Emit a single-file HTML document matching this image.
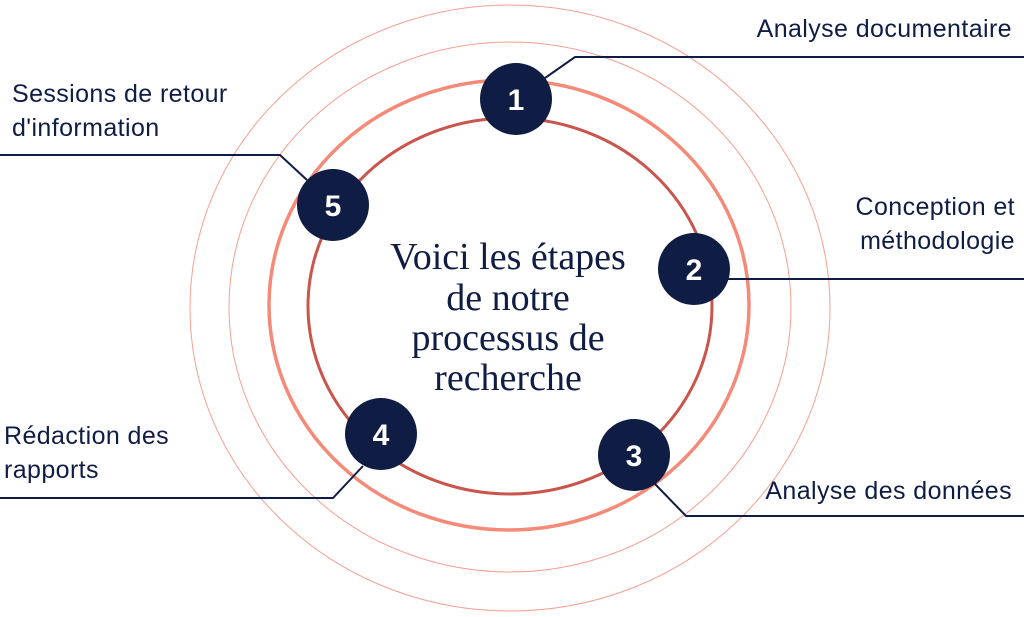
<!DOCTYPE html>
<html><head><meta charset="utf-8"><style>
body{margin:0;background:#fff;width:1024px;height:612px;overflow:hidden}
svg text{font-family:"Liberation Sans",sans-serif}
</style></head><body>
<svg width="1024" height="612" viewBox="0 0 1024 612" xmlns="http://www.w3.org/2000/svg">
<g fill="none">
<ellipse cx="510" cy="308" rx="320" ry="303" stroke="#f6a090" stroke-width="1"/>
<ellipse cx="510" cy="307" rx="281" ry="265" stroke="#f6a090" stroke-width="1"/>
<ellipse cx="509" cy="305" rx="240" ry="225" stroke="#f58a78" stroke-width="3.5"/>
<ellipse cx="510" cy="306" rx="202" ry="188" stroke="#c9554c" stroke-width="3"/>
</g>
<g fill="none" stroke="#0f1d45" stroke-width="2">
<polyline points="545,78 575,57 1024,57"/>
<polyline points="720,279 1024,279"/>
<polyline points="655,484 686,516 1024,516"/>
<polyline points="363,466 333,498 0,498"/>
<polyline points="307,180 280,155 0,155"/>
</g>
<g fill="#0f1d45">
<circle cx="516" cy="99" r="36"/>
<circle cx="694" cy="269" r="36"/>
<circle cx="634" cy="455" r="36"/>
<circle cx="381" cy="434" r="36"/>
<circle cx="333" cy="205" r="36"/>
</g>
<g fill="#fff" font-size="30" font-weight="bold" text-anchor="middle">
<text x="516" y="110">1</text>
<text x="694" y="280">2</text>
<text x="634" y="466">3</text>
<text x="381" y="445">4</text>
<text x="333" y="216">5</text>
</g>
<g fill="#0f1d45" font-size="25" letter-spacing="0.4">
<text x="1012" y="37" text-anchor="end">Analyse documentaire</text>
<text x="1015" y="215" text-anchor="end">Conception et</text>
<text x="1015" y="249" text-anchor="end">méthodologie</text>
<text x="1012" y="499" text-anchor="end">Analyse des données</text>
<text x="4" y="444">Rédaction des</text>
<text x="4" y="478">rapports</text>
<text x="12" y="102">Sessions de retour</text>
<text x="12" y="136">d'information</text>
</g>
<g fill="#0f1d45" font-size="38" text-anchor="middle">
<text x="508" y="269" style="font-family:'Liberation Serif',serif">Voici les étapes</text>
<text x="508" y="310" style="font-family:'Liberation Serif',serif">de notre</text>
<text x="508" y="350" style="font-family:'Liberation Serif',serif">processus de</text>
<text x="508" y="390" style="font-family:'Liberation Serif',serif">recherche</text>
</g>
</svg>
</body></html>
